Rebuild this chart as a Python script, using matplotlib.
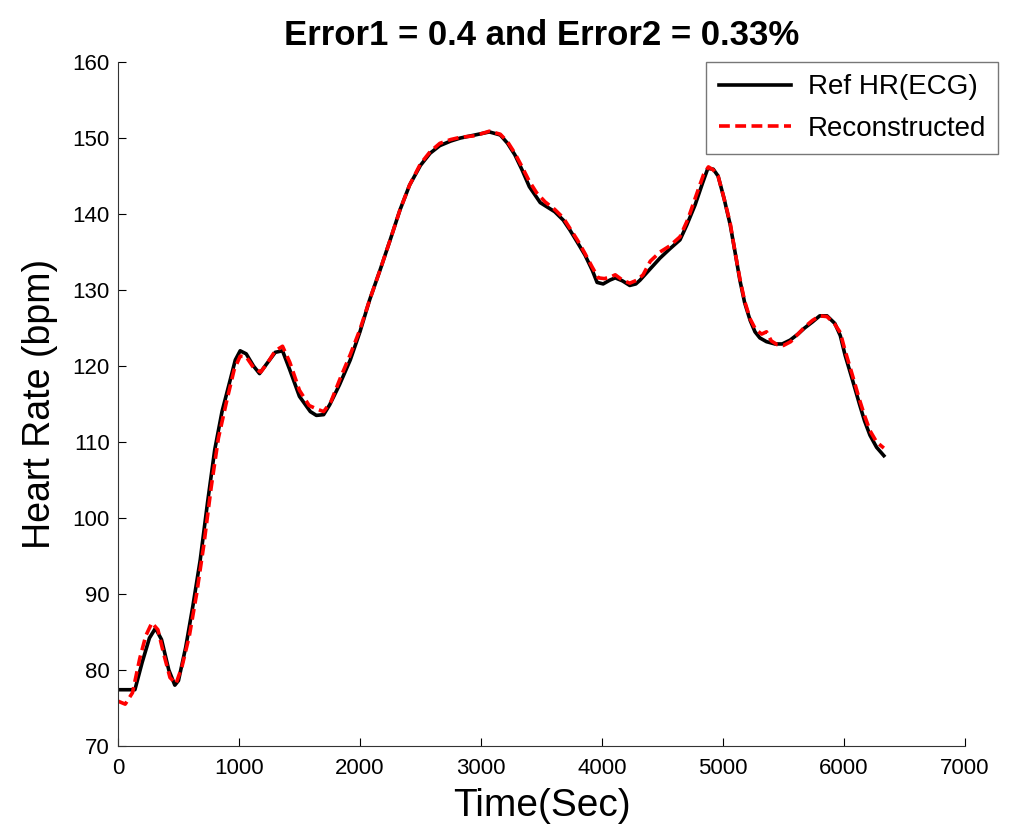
import numpy as np
import matplotlib.pyplot as plt

plt.rcParams['font.family'] = ['Liberation Sans', 'DejaVu Sans']

# Reference heart rate (ECG)
ref_time = [0, 140, 200, 260, 310, 360, 420, 470, 500, 560, 620, 680, 740, 800,
            860, 925, 970, 1010, 1060, 1120, 1170, 1230, 1300, 1360, 1420, 1500,
            1590, 1640, 1700, 1750, 1830, 1920, 2000, 2080, 2170, 2250, 2330, 2410,
            2500, 2580, 2660, 2750, 2830, 2950, 3070, 3160, 3220, 3280, 3340, 3400,
            3490, 3610, 3680, 3735, 3800, 3860, 3920, 3960, 4010, 4065, 4110, 4170,
            4230, 4280, 4315, 4400, 4480, 4560, 4645, 4700, 4770, 4830, 4875, 4920,
            4960, 5010, 5060, 5100, 5140, 5180, 5225, 5265, 5305, 5360, 5430, 5490,
            5555, 5620, 5675, 5740, 5800, 5860, 5925, 5970, 6010, 6070, 6130, 6170,
            6215, 6270, 6330]
ref_hr = [77.4, 77.4, 81.0, 84.2, 85.5, 84.0, 80.0, 78.0, 78.6, 83.0, 88.5, 94.5, 102.0, 109.0,
          114.0, 118.0, 120.8, 122.0, 121.6, 120.0, 119.0, 120.3, 121.8, 122.0, 119.5, 116.0,
          114.0, 113.5, 113.6, 114.9, 117.5, 120.8, 124.5, 128.7, 132.8, 136.6, 140.5, 143.8,
          146.4, 148.0, 149.0, 149.6, 150.0, 150.4, 150.8, 150.4, 149.3, 147.8, 145.8, 143.6,
          141.5, 140.3, 139.2, 137.9, 136.2, 134.6, 132.6, 131.0, 130.8, 131.3, 131.6, 131.2,
          130.6, 130.8, 131.3, 132.8, 134.2, 135.4, 136.6, 138.5, 141.2, 144.0, 146.0, 145.9,
          145.0, 142.0, 138.6, 135.0, 131.3, 128.3, 126.0, 124.5, 123.7, 123.2, 122.9, 122.9,
          123.4, 124.2, 125.0, 125.8, 126.6, 126.6, 125.6, 124.0, 121.4, 118.2, 114.9, 112.8,
          110.9, 109.3, 108.2]

# Reconstructed heart rate
rec_time = [0, 60, 120, 180, 230, 280, 330, 380, 430, 480, 530, 590, 650, 710, 770,
            830, 900, 960, 1010, 1060, 1120, 1180, 1240, 1300, 1360, 1420, 1500, 1580,
            1650, 1700, 1760, 1840, 1920, 2000, 2080, 2170, 2250, 2330, 2410, 2500,
            2580, 2660, 2750, 2830, 2950, 3070, 3160, 3220, 3280, 3340, 3400, 3460,
            3530, 3610, 3680, 3740, 3800, 3860, 3920, 3970, 4020, 4070, 4110, 4170,
            4230, 4290, 4340, 4400, 4480, 4560, 4645, 4710, 4780, 4840, 4880, 4920,
            4960, 5010, 5060, 5100, 5140, 5180, 5225, 5270, 5320, 5360, 5400, 5450,
            5500, 5560, 5620, 5680, 5740, 5800, 5860, 5920, 5970, 6010, 6070, 6130,
            6170, 6215, 6270, 6330]
rec_hr = [75.9, 75.5, 77.0, 81.5, 84.5, 86.2, 85.3, 82.0, 79.0, 78.2, 80.5, 84.5, 90.0, 96.5, 104.0,
          110.5, 115.5, 119.5, 121.3, 121.2, 119.8, 119.2, 120.5, 122.0, 122.6, 120.5, 116.8, 114.8,
          114.3, 114.0, 115.3, 118.5, 121.5, 124.8, 128.7, 132.8, 136.6, 140.5, 143.8, 146.6,
          148.2, 149.3, 149.8, 150.1, 150.3, 150.9, 150.5, 149.5, 148.0, 146.2, 144.3, 142.8,
          141.6, 140.6, 139.5, 138.0, 136.5, 134.8, 133.0, 131.6, 131.5, 131.7, 132.0, 131.3,
          130.9, 131.3, 132.0, 133.8, 135.0, 135.8, 137.0, 139.3, 142.5, 145.2, 146.2, 145.8,
          145.0, 142.0, 138.8, 135.0, 131.5, 128.5, 126.2, 124.8, 124.2, 124.5, 123.3, 122.8,
          122.7, 123.2, 124.2, 125.2, 126.0, 126.6, 126.5, 125.6, 124.4, 122.0, 118.8, 115.5,
          113.5, 111.5, 110.0, 109.2]

fig = plt.figure(figsize=(10.24, 8.36), dpi=100)
ax = fig.add_axes([0.1152, 0.1077, 0.8271, 0.8181])

ax.plot(ref_time, ref_hr, color='black', linewidth=2.6, label='Ref HR(ECG)')
ax.plot(rec_time, rec_hr, color='red', linewidth=2.6, linestyle=(0, (3, 1.5)),
        label='Reconstructed')

ax.set_xlim(0, 7000)
ax.set_ylim(70, 160)
ax.set_xticks(np.arange(0, 7001, 1000))
ax.set_yticks(np.arange(70, 161, 10))
ax.tick_params(direction='in', length=6, labelsize=16, top=False, right=False, pad=6)
ax.tick_params(axis='x', pad=9)
ax.spines['top'].set_visible(False)
ax.spines['right'].set_visible(False)
ax.spines['left'].set_color('#333333')
ax.spines['bottom'].set_color('#333333')

ax.set_xlabel('Time(Sec)', fontsize=28, labelpad=6)
ax.set_ylabel('Heart Rate (bpm)', fontsize=27, labelpad=10)
ax.set_title('Error1 = 0.4 and Error2 = 0.33%', fontsize=25, fontweight='bold', pad=12)

leg = ax.legend(loc='upper right', bbox_to_anchor=(0.975, 0.926),
                bbox_transform=fig.transFigure, fontsize=20, frameon=True,
                fancybox=False, edgecolor='#555555', handlelength=2.6,
                handletextpad=0.6, borderpad=0.45, labelspacing=0.55,
                borderaxespad=0)
leg.get_frame().set_linewidth(1.0)

fig.savefig('out.png', dpi=100)
